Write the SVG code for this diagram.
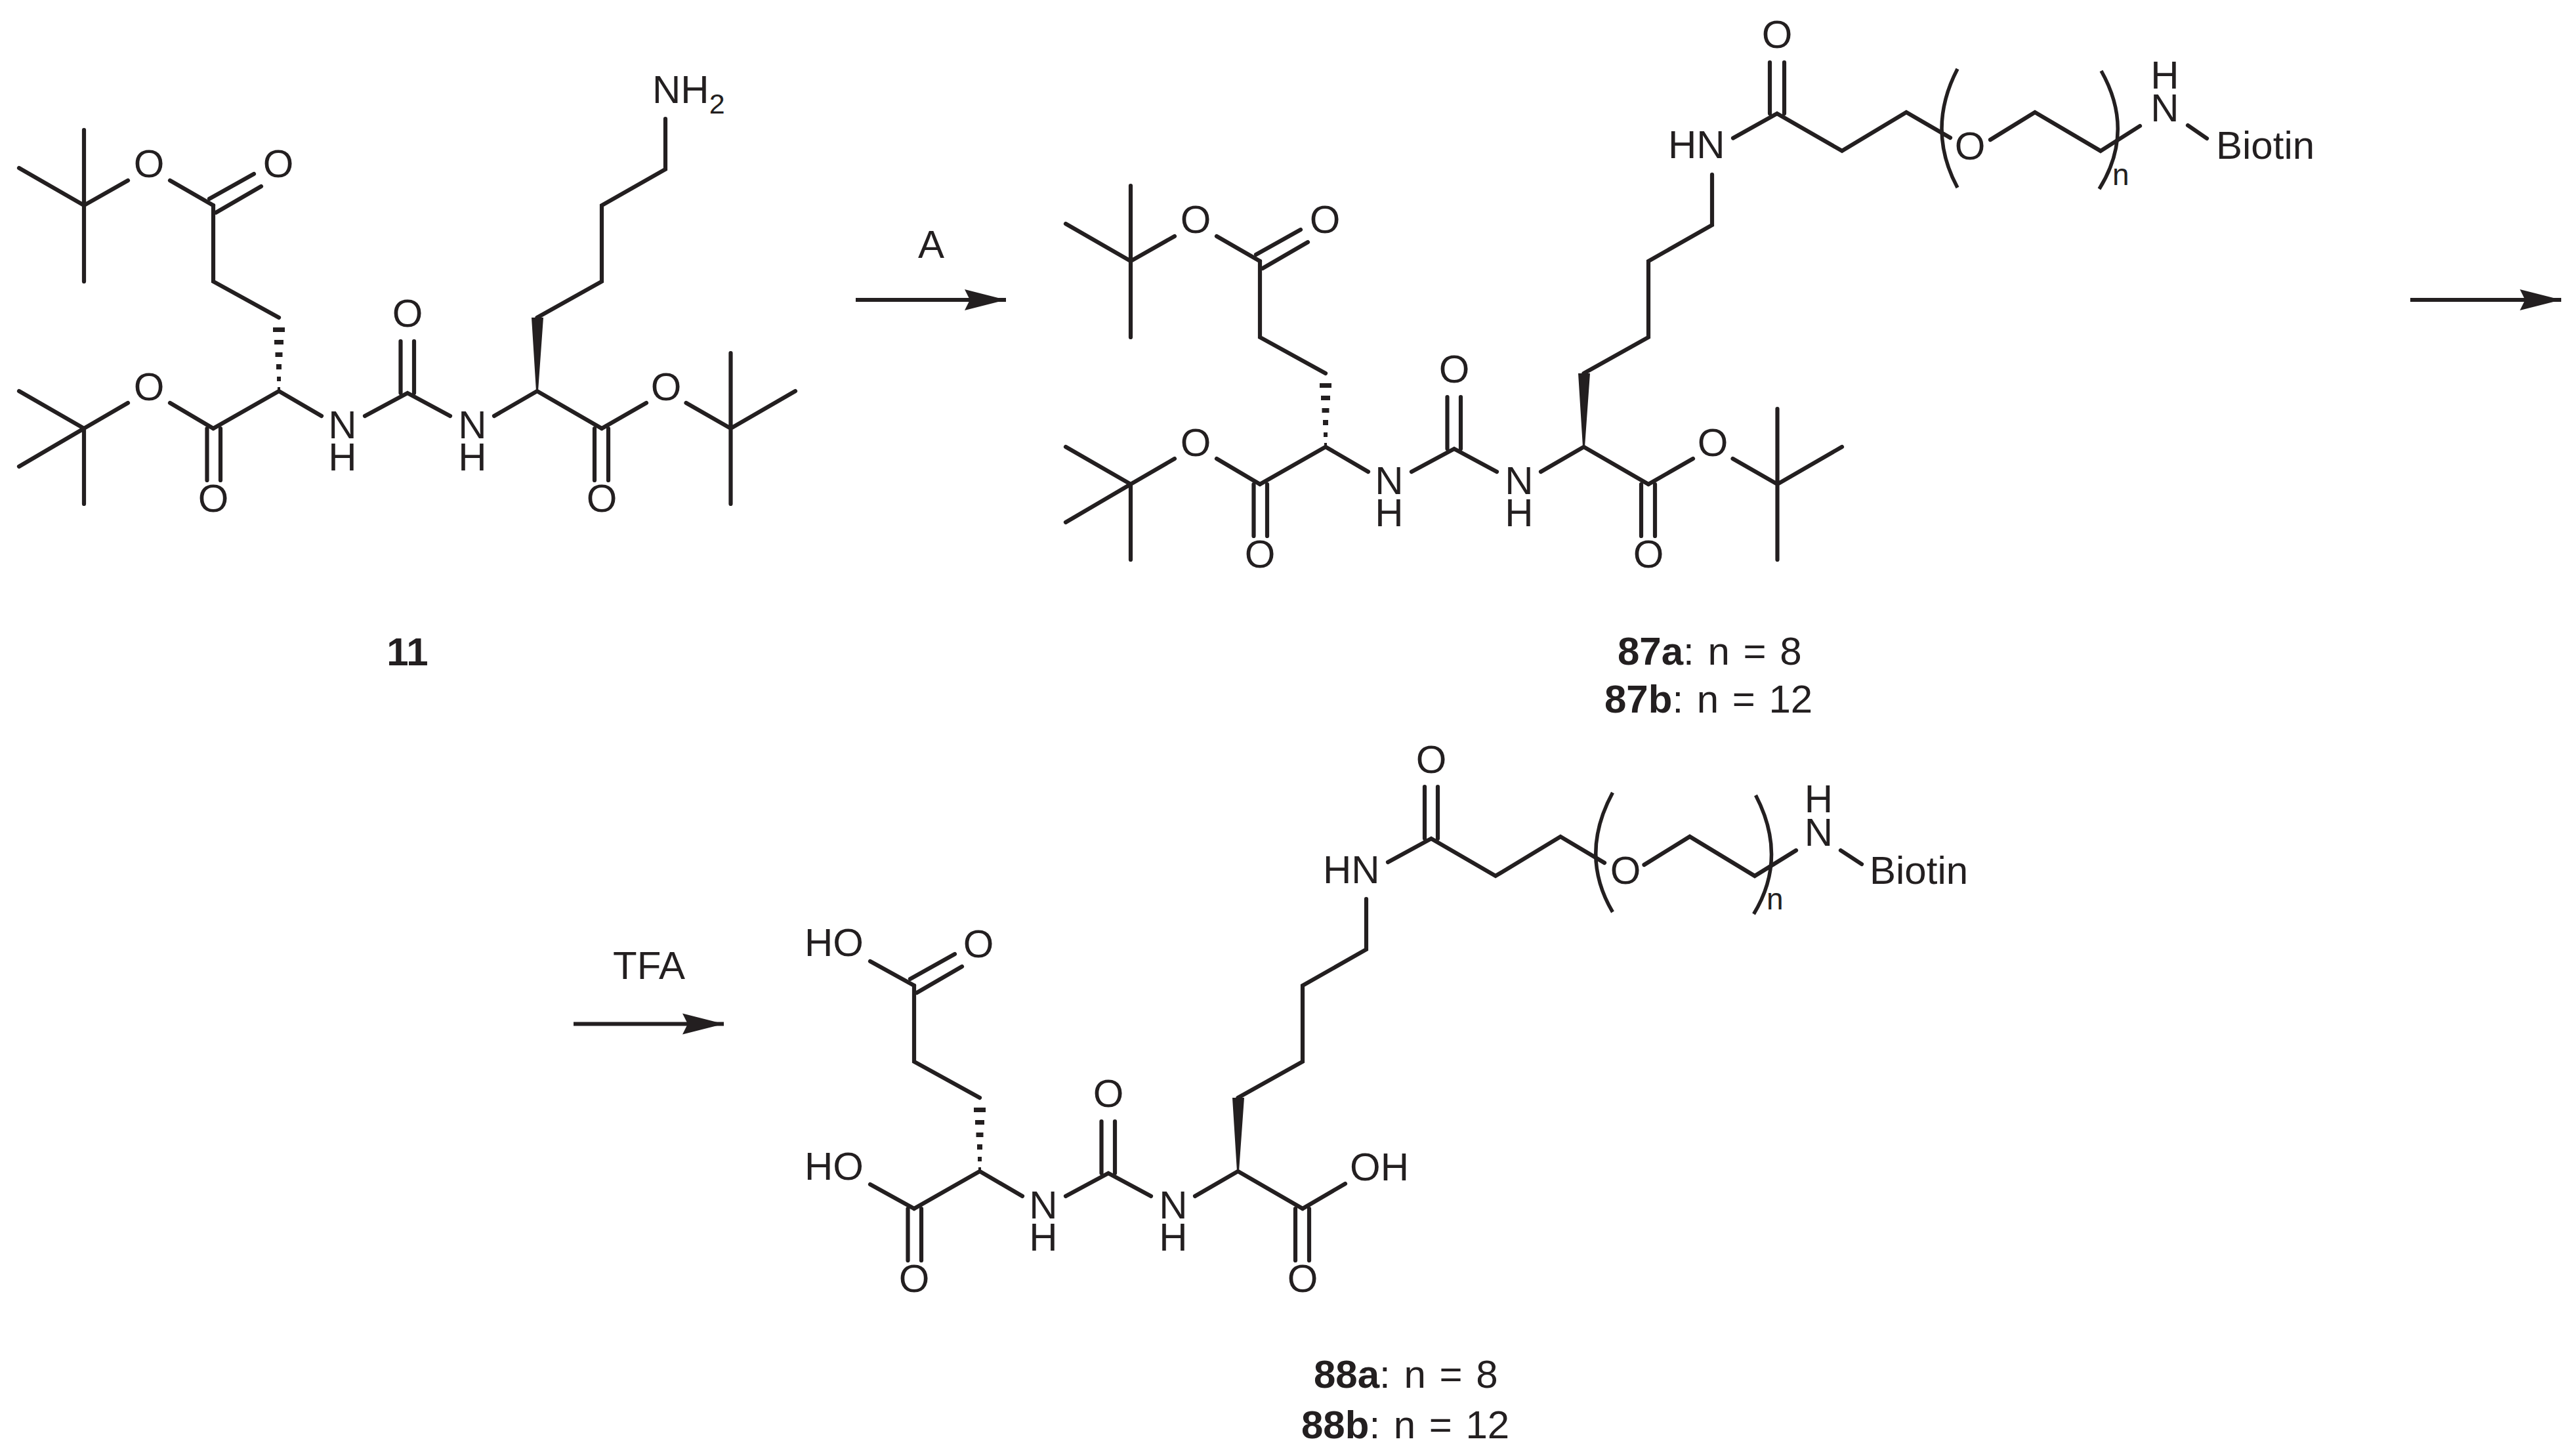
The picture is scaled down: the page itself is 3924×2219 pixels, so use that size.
<svg xmlns="http://www.w3.org/2000/svg" xmlns:xlink="http://www.w3.org/1999/xlink" width="3924" height="2219" viewBox="0 0 3924 2219">
<style>
text{font-family:"Liberation Sans",Arial,sans-serif;font-size:60px;fill:#231f20}
.m{text-anchor:middle}
.b{font-weight:bold}
.s{font-size:43px}
.n{font-size:46px}
.w{word-spacing:4px}
.bond{fill:none;stroke:#231f20;stroke-width:6.2;stroke-linecap:round;stroke-linejoin:miter}
.brk{fill:none;stroke:#231f20;stroke-width:5.5}
.arrow{fill:none;stroke:#231f20;stroke-width:6;marker-end:url(#head)}
.solid{fill:#231f20}
</style>
<defs>
<marker id="head" markerUnits="userSpaceOnUse" markerWidth="64" markerHeight="34" refX="63" refY="17" orient="auto" overflow="visible">
<path d="M0 1L63 17L0 33L8 17Z" fill="#231f20"/>
</marker>
<g id="core">
<path class="bond" d="M325 313V429L425 484M325 653L425 596L490 634M556 634L621 599L686 634M753 634L818.5 596L917 653M818.5 484L917 429V313L1014 258V181"/>
<path class="bond" d="M319 303L387 265M329 324L398 284M315.5 653V732M336 653V732M610.5 520V599M631 520V599M906 653V732M927 653V732"/>
<path class="solid" d="M810 484H828L820 596H817ZM416 499H434V506H416ZM418 518H432V525H418ZM419.500 537H430.500V544H419.500ZM421 555H429V563H421ZM422 574H428V581H422ZM423 590H427V595H423Z"/>
</g>
<g id="tbu">
<path class="bond" d="M29 256L128 313L195 275M128 198V429M259 275L325 313"/>
<path class="bond" d="M29 596L128 653L195 614M29 711L128 653V768M259 614L325 653"/>
<path class="bond" d="M985 614L917 653M1045.500 614L1113.500 653L1212 596M1113.500 538V768"/>
</g>
</defs>

<g id="compound-11">
<use href="#core"/>
<use href="#tbu"/>
<text class="m" x="227" y="270">O</text>
<text class="m" x="424" y="270">O</text>
<text class="m" x="227" y="610">O</text>
<text class="m" x="325" y="780">O</text>
<text class="m" x="522" y="668">N</text>
<text class="m" x="522" y="717">H</text>
<text class="m" x="621" y="497.500">O</text>
<text class="m" x="720" y="668">N</text>
<text class="m" x="720" y="717">H</text>
<text class="m" x="917" y="780">O</text>
<text class="m" x="1015" y="610">O</text>
<text x="994" y="156.500">NH<tspan class="s" dy="16">2</tspan></text>
<text class="m b" x="621" y="1014">11</text>
</g>

<g id="compound-87">
<g transform="translate(1595 85)">
<use href="#core"/>
<use href="#tbu"/>
<text class="m" x="227" y="270">O</text>
<text class="m" x="424" y="270">O</text>
<text class="m" x="227" y="610">O</text>
<text class="m" x="325" y="780">O</text>
<text class="m" x="522" y="668">N</text>
<text class="m" x="522" y="717">H</text>
<text class="m" x="621" y="497.500">O</text>
<text class="m" x="720" y="668">N</text>
<text class="m" x="720" y="717">H</text>
<text class="m" x="917" y="780">O</text>
<text class="m" x="1015" y="610">O</text>
</g>
<path class="bond" d="M2641 210.500L2708 173L2807 230L2905 171L2972 210M3033 213L3101 171L3201 230L3261 192M3334 191L3363 211M2697 173V95M2719 173V95"/>
<path class="brk" d="M2983 105Q2935 197 2983 286M3202 108Q3254 200 3199 288"/>
<text x="2542" y="241">HN</text>
<text class="m" x="2708" y="73">O</text>
<text class="m" x="3002" y="243">O</text>
<text class="m" x="3299" y="185">N</text>
<text class="m" x="3299" y="135">H</text>
<text class="n" x="3219" y="282">n</text>
<text x="3377" y="242">Biotin</text>
<text class="w" x="2465" y="1013"><tspan class="b">87a</tspan>: n = 8</text>
<text class="w" x="2445" y="1086"><tspan class="b">87b</tspan>: n = 12</text>
</g>

<g id="compound-88">
<g transform="translate(1068 1189)">
<use href="#core"/>
<path class="bond" d="M258 276L325 313M258 616L325 653M982 615L917 653"/>
<text class="m" x="423" y="270">O</text>
<text class="m" x="325" y="780">O</text>
<text class="m" x="522" y="668">N</text>
<text class="m" x="522" y="717">H</text>
<text class="m" x="621" y="497.500">O</text>
<text class="m" x="720" y="668">N</text>
<text class="m" x="720" y="717">H</text>
<text class="m" x="917" y="780">O</text>
</g>
<path class="bond" d="M2115 1314L2181 1278L2279 1335L2378 1275L2445 1315M2505.500 1318L2575 1275L2674 1335L2737 1296M2805 1296L2837 1317M2171 1278V1199M2191 1278V1199"/>
<path class="brk" d="M2457.500 1208Q2406 1303 2457.500 1390M2675.500 1212Q2725 1307 2672.500 1393"/>
<text x="1226" y="1457">HO</text>
<text x="1226" y="1798">HO</text>
<text x="2057" y="1799">OH</text>
<text x="2016" y="1346">HN</text>
<text class="m" x="2181" y="1178">O</text>
<text class="m" x="2477" y="1347">O</text>
<text class="m" x="2771.500" y="1289">N</text>
<text class="m" x="2771.500" y="1238">H</text>
<text class="n" x="2692" y="1386">n</text>
<text x="2849" y="1347">Biotin</text>
<text class="w" x="2002" y="2115"><tspan class="b">88a</tspan>: n = 8</text>
<text class="w" x="1983" y="2192"><tspan class="b">88b</tspan>: n = 12</text>
</g>

<g id="connectors">
<path class="arrow" d="M1304 457H1533"/>
<path class="arrow" d="M3673 457H3903"/>
<path class="arrow" d="M874 1560.500H1103"/>
</g>
<text class="m" x="1419" y="393">A</text>
<text class="m" x="989" y="1492">TFA</text>
</svg>
